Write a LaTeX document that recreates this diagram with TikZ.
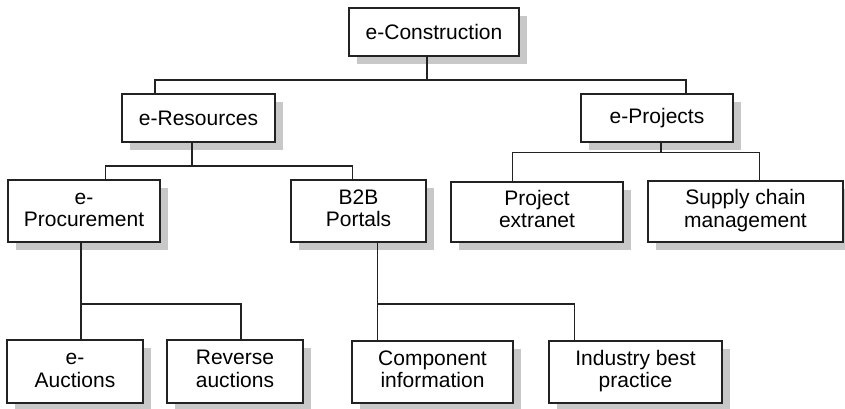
\documentclass[tikz,border=0pt]{standalone}
\usepackage{fontspec}
\setmainfont{Liberation Sans}
\usetikzlibrary{shadows}
\definecolor{edge}{HTML}{222222}
\definecolor{shade}{HTML}{C8C8C8}
% two centred lines of a box label
\newcommand{\twolines}[2]{\raisebox{-7pt}{\begin{tabular}{@{}c@{}}#1\\#2\end{tabular}}}
\begin{document}
\begin{tikzpicture}[x=1pt,y=-1pt,
  box/.style 2 args={draw=edge, line width=1.1pt, fill=white, inner sep=0pt,
    minimum width=#1, minimum height=#2,
    font=\fontsize{21}{22.5}\selectfont,
    drop shadow={shadow xshift=7.5pt, shadow yshift=-8pt, fill=shade, opacity=1}},
  link/.style={draw=edge, line width=1.1pt}]
\useasboundingbox (0,0) rectangle (845,408);

% top level
\node[box={170pt}{48pt}] (con) at (434,32) {e-Construction};

% second level
\node[box={153pt}{48pt}] (res) at (198.5,118) {e-Resources};
\node[box={152pt}{48pt}] (proj) at (657,118) {e-Projects};

% third level
\node[box={152pt}{62pt}] (proc) at (84,211) {\twolines{e-}{Procurement}};
\node[box={135pt}{62pt}] (b2b) at (358.5,211) {\twolines{B2B}{Portals}};
\node[box={172pt}{60pt}] (ext) at (537,212) {\twolines{Project}{extranet}};
\node[box={195pt}{61pt}] (scm) at (745.5,211.5) {\twolines{Supply chain}{management}};

% fourth level
\node[box={136pt}{63pt}] (auc) at (75,371.5) {\twolines{e-}{Auctions}};
\node[box={136pt}{63pt}] (rev) at (235,371.5) {\twolines{Reverse}{auctions}};
\node[box={161pt}{62pt}] (comp) at (432.5,372) {\twolines{Component}{information}};
\node[box={173pt}{62pt}] (ind) at (635.5,372) {\twolines{Industry best}{practice}};

% bus junctions
\coordinate (j0) at (427,80);
\coordinate (j0l) at (155,80);
\coordinate (j0r) at (686,80);
\coordinate (j1) at (192,166);
\coordinate (j1l) at (105.7,166);
\coordinate (j1r) at (352.3,166);
\coordinate (j2) at (661,152.7);
\coordinate (j2l) at (512.7,152.7);
\coordinate (j2r) at (759.3,152.7);
\coordinate (j3) at (81,304);
\coordinate (j3r) at (241,304);
\coordinate (j4) at (377.7,304);
\coordinate (j4r) at (574.3,304);

% connectors
\draw[link] (con.south -| j0) -- (j0);
\draw[link] (res.north -| j0l) -- (j0l) -- (j0r) -- (proj.north -| j0r);

\draw[link] (res.south -| j1) -- (j1);
\draw[link] (proc.north -| j1l) -- (j1l) -- (j1r) -- (b2b.north -| j1r);

\draw[link] (proj.south -| j2) -- (j2);
\draw[link] (ext.north -| j2l) -- (j2l) -- (j2r) -- (scm.north -| j2r);

\draw[link] (proc.south -| j3) -- (auc.north -| j3);
\draw[link] (j3) -- (j3r) -- (rev.north -| j3r);

\draw[link] (b2b.south -| j4) -- (comp.north -| j4);
\draw[link] (j4) -- (j4r) -- (ind.north -| j4r);
\end{tikzpicture}
\end{document}
